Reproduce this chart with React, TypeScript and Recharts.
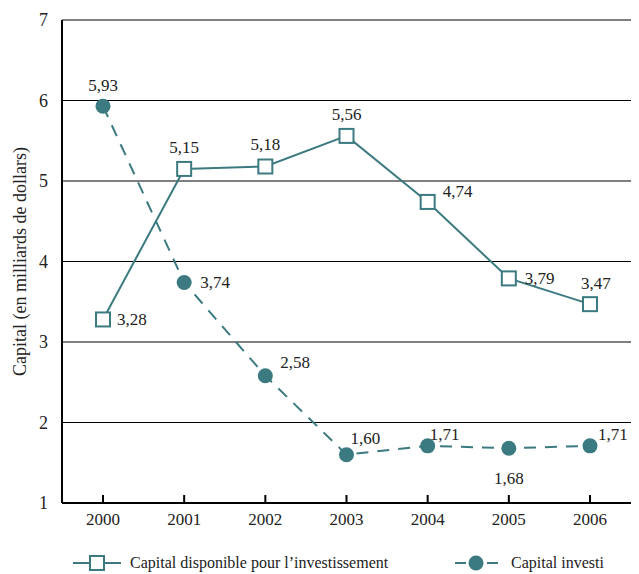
import React from 'react';
import {
  LineChart,
  Line,
  XAxis,
  YAxis,
  CartesianGrid,
  Legend
} from 'recharts';

const years = ['2000', '2001', '2002', '2003', '2004', '2005', '2006'];
const disponible = [3.28, 5.15, 5.18, 5.56, 4.74, 3.79, 3.47];
const investi = [5.93, 3.74, 2.58, 1.6, 1.71, 1.68, 1.71];
const yTicks = [1, 2, 3, 4, 5, 6, 7];

const data = years.map((year, i) => ({
  year,
  disponible: disponible[i],
  investi: investi[i]
}));

const TEAL = '#3b7a80';
const FONT = 'Liberation Serif, Times New Roman, serif';

// where each value label sits, relative to its marker
const dispoLabelPos = [[14, 0, 'start'], [0, -22, 'middle'], [0, -22, 'middle'], [0, -22, 'middle'], [15, -11, 'start'], [16, 0, 'start'], [-9, -21, 'start']];
const investiLabelPos = [[0, -21, 'middle'], [16, 0, 'start'], [15, -14, 'start'], [4, -17, 'start'], [2, -12, 'start'], [0, 30, 'middle'], [8, -12, 'start']];

const fmt = (v: number) => v.toFixed(2).replace('.', ',');

const makeLabel = (pos: any[]) => (props: any) => {
  const { x, y, value, index } = props;
  const [dx, dy, anchor] = pos[index];
  return (
    <text x={x + dx} y={y + dy} dy="0.35em" textAnchor={anchor} style={{ fontFamily: FONT, fontSize: 17 }} fill="#222">
      {fmt(value)}
    </text>
  );
};

const SquareDot = (props: any) => {
  const { cx, cy } = props;
  return <rect x={cx - 7} y={cy - 7} width={14} height={14} fill="#fff" stroke={TEAL} strokeWidth={2} />;
};

const CircleDot = (props: any) => {
  const { cx, cy } = props;
  return <circle cx={cx} cy={cy} r={7.5} fill={TEAL} stroke="none" />;
};

const XTick = (props: any) => {
  const { x, y, payload } = props;
  return (
    <g>
      <line x1={x} y1={y} x2={x} y2={y - 8} stroke="#000" strokeWidth={2} />
      <text x={x} y={y + 22} textAnchor="middle" style={{ fontFamily: FONT, fontSize: 17 }} fill="#222">
        {payload.value}
      </text>
    </g>
  );
};

const YTitle = (props: any) => {
  const vb = props.viewBox || {};
  const cx = 20;
  const cy = (vb.y ?? 20) + (vb.height ?? 483) / 2;
  return (
    <text x={cx} y={cy} transform={`rotate(-90, ${cx}, ${cy})`} textAnchor="middle" dy="0.35em" style={{ fontFamily: FONT, fontSize: 18 }} fill="#222">
      Capital (en milliards de dollars)
    </text>
  );
};

const LegendContent = () => (
  <div style={{ position: 'relative', height: 31 }}>
    <svg width={639} height={31} style={{ position: 'absolute', left: 0, top: 0 }}>
      <line x1={73} y1={20} x2={121} y2={20} stroke={TEAL} strokeWidth={2} />
      <rect x={90} y={13} width={14} height={14} fill="#fff" stroke={TEAL} strokeWidth={2} />
      <text x={130} y={25} style={{ fontFamily: FONT, fontSize: 16 }} fill="#222">Capital disponible pour l’investissement</text>
      <line x1={455} y1={20} x2={466} y2={20} stroke={TEAL} strokeWidth={2} />
      <line x1={487} y1={20} x2={498} y2={20} stroke={TEAL} strokeWidth={2} />
      <circle cx={476} cy={20} r={7.5} fill={TEAL} />
      <text x={511} y={25} style={{ fontFamily: FONT, fontSize: 16 }} fill="#222">Capital investi</text>
    </svg>
  </div>
);

export default function App() {
  return (
    <div style={{ position: 'absolute', left: 0, top: 0, width: 639, height: 574, background: '#fff' }}>
      <LineChart
        width={639}
        height={574}
        data={data}
        margin={{ top: 20, right: 8, left: 0, bottom: 0 }}
      >
        <CartesianGrid vertical={false} stroke="#000" strokeWidth={1.2} />
        <XAxis
          dataKey="year"
          padding={{ left: 41, right: 41 }}
          height={40}
          tickSize={0}
          tickMargin={0}
          tick={<XTick />}
          axisLine={{ stroke: '#000', strokeWidth: 2 }}
          tickLine={false}
        />
        <YAxis
          domain={[1, 7]}
          ticks={yTicks}
          width={62}
          tickLine={false}
          axisLine={{ stroke: '#000', strokeWidth: 2 }}
          tick={{ style: { fontFamily: FONT, fontSize: 18 }, fill: '#222' }}
          tickMargin={8}
          label={{ content: <YTitle /> }}
        />
        <YAxis
          yAxisId="right"
          orientation="right"
          width={0}
          tick={false}
          tickLine={false}
          axisLine={{ stroke: '#000', strokeWidth: 2 }}
        />
        <Legend verticalAlign="bottom" height={31} content={<LegendContent />} />
        <Line
          dataKey="disponible"
          stroke={TEAL}
          strokeWidth={2}
          dot={<SquareDot />}
          activeDot={false}
          label={makeLabel(dispoLabelPos)}
          isAnimationActive={false}
        />
        <Line
          dataKey="investi"
          stroke={TEAL}
          strokeWidth={2}
          strokeDasharray="12 9"
          dot={<CircleDot />}
          activeDot={false}
          label={makeLabel(investiLabelPos)}
          isAnimationActive={false}
        />
      </LineChart>
    </div>
  );
}
